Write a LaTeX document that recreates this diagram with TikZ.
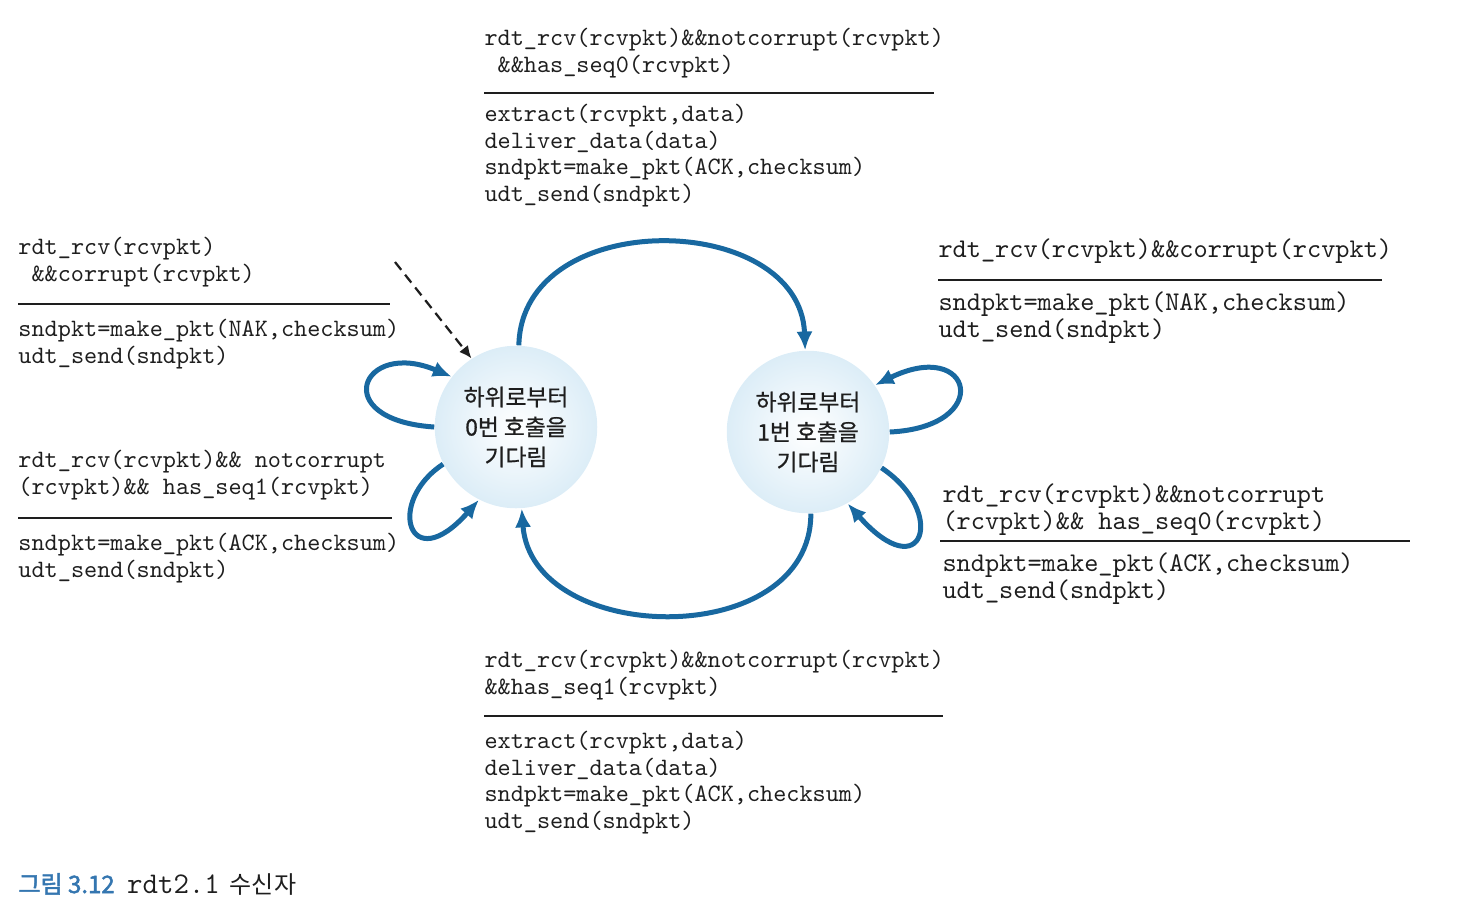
\documentclass[tikz,border=0pt]{standalone}
\usepackage{fontspec}
\newfontfamily\kr{Noto Sans CJK KR}
\newfontfamily\krm[FakeBold=0.8]{Noto Sans CJK KR}
\newfontfamily\krb[FakeBold=2]{Noto Sans CJK KR}
\usetikzlibrary{arrows.meta}

\definecolor{arrowblue}{RGB}{24,104,160}
\definecolor{statefill}{RGB}{220,237,247}
\definecolor{capblue}{RGB}{52,118,176}
\definecolor{ink}{RGB}{30,30,30}

\begin{document}
\begin{tikzpicture}[x=0.4pt,y=-0.4pt]
\tikzstyle{state}=[circle, minimum size=65pt, inner sep=0pt, shading=radial, inner color=white, outer color=statefill, align=center, text=ink, font=\krm\fontsize{9.1}{12}\selectfont]
\tikzstyle{code}=[anchor=base west, inner sep=0pt, align=left, text=ink, font=\ttfamily\fontsize{10}{10.6}\selectfont]
\tikzstyle{coderight}=[code, font=\ttfamily\fontsize{10.8}{10.6}\selectfont]
\tikzstyle{connect}=[-{Latex[length=7.5pt,width=6.5pt]}, line width=2pt, draw=arrowblue]
\tikzstyle{init}=[-{Latex[length=5pt,width=4.5pt]}, dash pattern=on 4pt off 2.5pt, line width=0.9pt, draw=ink]
\tikzstyle{rule}=[draw=ink, line width=0.8pt]

\useasboundingbox (0,0) rectangle (1458,922);

  % states
  \node[state] (s0) at (516,427) {하위로부터\\0번 호출을\\기다림};
  \node[state] (s1) at (808,432) {하위로부터\\1번 호출을\\기다림};

  % 0 -> 1
  \node[code] (g0) at (484,72)  {rdt\_rcv(rcvpkt)\&\&notcorrupt(rcvpkt)\\\phantom{r}\&\&has\_seq0(rcvpkt)};
  \draw[rule] (484,93) -- (934,93);
  \node[code] (a0) at (484,201) {extract(rcvpkt,data)\\deliver\_data(data)\\sndpkt=make\_pkt(ACK,checksum)\\udt\_send(sndpkt)};

  % 0 -> 0 (corrupt)
  \node[code] (g1) at (18,281)  {rdt\_rcv(rcvpkt)\\\phantom{r}\&\&corrupt(rcvpkt)};
  \draw[rule] (18,304) -- (390,304);
  \node[code] (a1) at (18,363)  {sndpkt=make\_pkt(NAK,checksum)\\udt\_send(sndpkt)};

  % 1 -> 1 (corrupt)
  \node[coderight] (g2) at (938,257) {rdt\_rcv(rcvpkt)\&\&corrupt(rcvpkt)};
  \draw[rule] (938,280) -- (1382,280);
  \node[coderight] (a2) at (938,337) {sndpkt=make\_pkt(NAK,checksum)\\udt\_send(sndpkt)};

  % 0 -> 0 (seq1)
  \node[code] (g3) at (18,494)  {rdt\_rcv(rcvpkt)\&\& notcorrupt\\(rcvpkt)\&\& has\_seq1(rcvpkt)};
  \draw[rule] (18,518) -- (392,518);
  \node[code] (a3) at (18,577)  {sndpkt=make\_pkt(ACK,checksum)\\udt\_send(sndpkt)};

  % 1 -> 1 (seq0)
  \node[coderight] (g4) at (942,529) {rdt\_rcv(rcvpkt)\&\&notcorrupt\\(rcvpkt)\&\& has\_seq0(rcvpkt)};
  \draw[rule] (940,541) -- (1410,541);
  \node[coderight] (a4) at (942,598) {sndpkt=make\_pkt(ACK,checksum)\\udt\_send(sndpkt)};

  % 1 -> 0
  \node[code] (g5) at (484,694) {rdt\_rcv(rcvpkt)\&\&notcorrupt(rcvpkt)\\\&\&has\_seq1(rcvpkt)};
  \draw[rule] (484,716) -- (943,716);
  \node[code] (a5) at (484,828) {extract(rcvpkt,data)\\deliver\_data(data)\\sndpkt=make\_pkt(ACK,checksum)\\udt\_send(sndpkt)};

  % caption
  \node[anchor=base west, inner sep=0pt, text=ink, font=\kr\fontsize{9.6}{11}\selectfont] (cap) at (18,893)
    {\textcolor{capblue}{\krb 그림 3.12}\hspace{5pt}{\ttfamily\fontsize{12}{11}\selectfont rdt2.1}\hspace{4pt}수신자};

  % transitions
  \coordinate (start) at (395,262);
  \draw[init] (start) -- (s0.123);
  \draw[connect] (s0.88) .. controls +(3,-140) and +(-5,-140) .. (s1.92);
  \draw[connect] (s1.-88) .. controls +(0,138) and +(10,138) .. (s0.-86);
  \draw[connect] (s0.180) .. controls +(-107,-7) and +(-90,-38) .. (s0.142);
  \draw[connect] (s0.207) .. controls +(-58,38) and +(-70,79) .. (s0.243);
  \draw[connect] (s1.0) .. controls +(105,-5) and +(98,-48) .. (s1.35);
  \draw[connect] (s1.-26) .. controls +(66,44) and +(76,86) .. (s1.-61);

\end{tikzpicture}
\end{document}
